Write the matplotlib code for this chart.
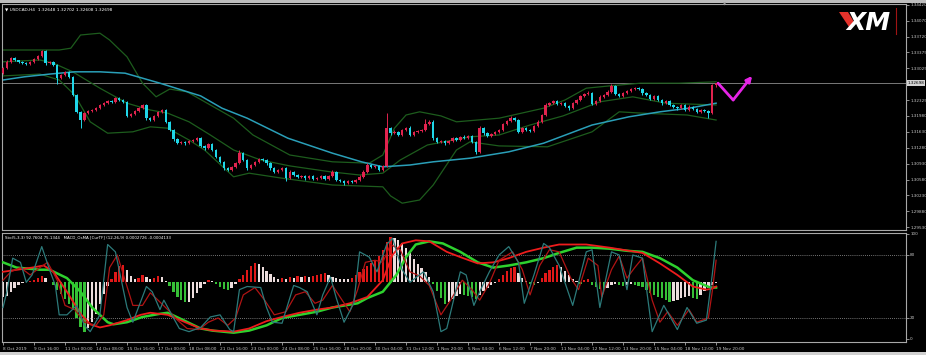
import numpy as np
import matplotlib
matplotlib.use("Agg")
import matplotlib.pyplot as plt
from matplotlib.patches import Polygon, Rectangle
from matplotlib.lines import Line2D

# ---------------------------------------------------------------------------
# Data (USDCAD H4)
# ---------------------------------------------------------------------------

first_open = 1.3292
close = [
    1.3303, 1.3317, 1.3325, 1.3321, 1.3317, 1.3314, 1.3312, 1.3317, 1.3323, 1.3330,
    1.3341, 1.3314, 1.3317, 1.3310, 1.3281, 1.3288, 1.3295, 1.3284, 1.3244, 1.3207,
    1.3189, 1.3204, 1.3209, 1.3211, 1.3215, 1.3222, 1.3226, 1.3231, 1.3229, 1.3237,
    1.3233, 1.3229, 1.3198, 1.3202, 1.3209, 1.3215, 1.3222, 1.3193, 1.3189, 1.3198,
    1.3207, 1.3211, 1.3185, 1.3167, 1.3147, 1.3138, 1.3141, 1.3138, 1.3143, 1.3145,
    1.3149, 1.3132, 1.3127, 1.3136, 1.3123, 1.3108, 1.3097, 1.3083, 1.3079, 1.3086,
    1.3094, 1.3116, 1.3101, 1.3083, 1.3090, 1.3097, 1.3103, 1.3101, 1.3094, 1.3083,
    1.3075, 1.3079, 1.3083, 1.3061, 1.3075, 1.3068, 1.3064, 1.3066, 1.3061, 1.3066,
    1.3059, 1.3061, 1.3066, 1.3059, 1.3066, 1.3075, 1.3057, 1.3055, 1.3050, 1.3055,
    1.3053, 1.3057, 1.3064, 1.3075, 1.3090, 1.3086, 1.3088, 1.3079, 1.3088, 1.3171,
    1.3160, 1.3163, 1.3156, 1.3167, 1.3171, 1.3156, 1.3163, 1.3165, 1.3167, 1.3180,
    1.3185, 1.3149, 1.3141, 1.3143, 1.3138, 1.3143, 1.3149, 1.3145, 1.3152, 1.3149,
    1.3154, 1.3141, 1.3119, 1.3171, 1.3160, 1.3154, 1.3158, 1.3163, 1.3167, 1.3180,
    1.3187, 1.3193, 1.3189, 1.3163, 1.3171, 1.3167, 1.3165, 1.3176, 1.3185, 1.3200,
    1.3222, 1.3226, 1.3231, 1.3224, 1.3226, 1.3220, 1.3215, 1.3226, 1.3233, 1.3242,
    1.3246, 1.3248, 1.3224, 1.3231, 1.3240, 1.3244, 1.3251, 1.3264, 1.3246, 1.3242,
    1.3248, 1.3253, 1.3257, 1.3259, 1.3257, 1.3248, 1.3244, 1.3235, 1.3242, 1.3233,
    1.3226, 1.3231, 1.3222, 1.3218, 1.3215, 1.3222, 1.3211, 1.3218, 1.3213, 1.3207,
    1.3211, 1.3209, 1.3204, 1.3265, 1.3270,
]
# wick lengths in pips beyond the candle body
wick_up = [
    2, 3, 2, 2, 1, 2, 3, 2, 2, 3,
    3, 2, 2, 1, 2, 3, 2, 2, 1, 2,
    2, 3, 2, 2, 2, 3, 2, 2, 3, 2,
    2, 2, 2, 3, 2, 2, 3, 2, 2, 3,
    2, 2, 2, 2, 2, 2, 2, 2, 3, 2,
    2, 2, 2, 3, 2, 2, 2, 2, 2, 2,
    3, 6, 2, 2, 3, 2, 3, 2, 2, 2,
    2, 2, 3, 2, 3, 2, 2, 2, 2, 3,
    2, 2, 3, 2, 3, 3, 2, 2, 2, 2,
    2, 2, 3, 3, 4, 2, 2, 2, 3, 33,
    3, 3, 2, 3, 3, 4, 2, 2, 3, 12,
    4, 3, 2, 2, 2, 2, 3, 2, 2, 3,
    2, 2, 2, 4, 2, 2, 2, 2, 3, 3,
    3, 4, 2, 2, 3, 2, 2, 3, 3, 3,
    4, 3, 3, 2, 2, 2, 2, 3, 3, 3,
    3, 4, 2, 3, 3, 3, 3, 5, 2, 2,
    3, 3, 2, 3, 2, 2, 2, 2, 3, 2,
    2, 2, 2, 2, 2, 3, 2, 3, 2, 2,
    2, 2, 2, 3, 0,
]
wick_dn = [
    2, 2, 3, 2, 2, 2, 3, 2, 2, 2,
    2, 3, 2, 2, 13, 2, 2, 3, 3, 3,
    18, 2, 2, 2, 2, 2, 2, 2, 3, 2,
    2, 3, 3, 2, 2, 2, 2, 3, 3, 2,
    2, 2, 3, 3, 4, 2, 2, 3, 2, 2,
    2, 3, 3, 2, 3, 3, 3, 3, 3, 2,
    2, 2, 3, 3, 2, 2, 2, 2, 3, 3,
    3, 2, 2, 6, 2, 3, 2, 2, 3, 2,
    3, 2, 2, 3, 2, 2, 3, 3, 3, 2,
    2, 2, 2, 2, 2, 2, 2, 3, 2, 3,
    3, 2, 3, 2, 2, 3, 2, 2, 2, 2,
    2, 3, 3, 2, 3, 2, 2, 2, 2, 2,
    2, 3, 4, 2, 3, 2, 2, 2, 2, 2,
    2, 2, 2, 3, 2, 2, 2, 2, 2, 2,
    2, 2, 2, 2, 2, 2, 3, 2, 2, 2,
    2, 2, 3, 2, 2, 2, 2, 2, 3, 2,
    2, 2, 2, 2, 2, 3, 2, 3, 2, 3,
    3, 2, 3, 2, 3, 2, 3, 2, 2, 3,
    2, 3, 11, 2, 4,
]

# Bollinger bands and moving average (bar index, price)
bb_upper_x = [0, 14.5, 17.5, 20, 25, 27.5, 32, 36, 39.5, 43, 47.5, 53.5, 59.5, 64.5, 74, 85,
              94.5, 98, 101, 104, 107.5, 113, 117, 128, 139.5, 145, 150.5, 156.5, 164.5, 174.5, 184]
bb_upper = [1.3343, 1.3343, 1.3347, 1.3376, 1.3380, 1.3365, 1.3328, 1.3270, 1.3240, 1.3257,
            1.3251, 1.3222, 1.3193, 1.3156, 1.3112, 1.3097, 1.3094, 1.3112, 1.3171, 1.3200,
            1.3207, 1.3198, 1.3185, 1.3193, 1.3215, 1.3233, 1.3259, 1.3264, 1.3270, 1.3270, 1.3273]
bb_mid_x = [0, 9.5, 13, 18, 25, 32, 38, 42.5, 48, 53.5, 59.5, 66.5, 74, 84.5, 92, 98, 102.5,
            109.5, 120.5, 128, 136, 144.5, 154, 162.5, 171, 184]
bb_mid = [1.3317, 1.3321, 1.3314, 1.3295, 1.3259, 1.3226, 1.3211, 1.3204, 1.3185, 1.3156,
          1.3123, 1.3101, 1.3088, 1.3075, 1.3068, 1.3072, 1.3101, 1.3134, 1.3152, 1.3156,
          1.3178, 1.3198, 1.3229, 1.3240, 1.3226, 1.3222]
bb_lower_x = [0, 9.5, 14.5, 18.5, 22.5, 27, 33.5, 38, 42.5, 48, 52, 59.5, 63.5, 72, 85, 98, 100,
              103, 107.5, 111, 117, 120.5, 128, 140.5, 152, 159, 165, 176.5, 184]
bb_lower = [1.3286, 1.3290, 1.3277, 1.3244, 1.3185, 1.3160, 1.3163, 1.3174, 1.3171, 1.3145,
            1.3123, 1.3064, 1.3072, 1.3061, 1.3046, 1.3042, 1.3022, 1.3006, 1.3013, 1.3046,
            1.3123, 1.3141, 1.3132, 1.3130, 1.3163, 1.3207, 1.3204, 1.3200, 1.3189]
ma_x = [0, 5.5, 12, 18.5, 25, 31.5, 40.5, 51, 56.5, 63, 73.5, 85, 92.5, 98, 105, 111, 120.5,
        130.5, 139.5, 152, 161.5, 169.5, 177, 184]
ma = [1.3277, 1.3284, 1.3290, 1.3295, 1.3295, 1.3292, 1.3270, 1.3242, 1.3215, 1.3193, 1.3149,
      1.3116, 1.3097, 1.3086, 1.3090, 1.3097, 1.3105, 1.3119, 1.3138, 1.3178, 1.3196, 1.3207,
      1.3215, 1.3226]

last_price = 1.32698
arrow_x = [184.5, 188.4, 193.3]
arrow_y = [1.3270, 1.3233, 1.3286]

price_ticks = [1.34420, 1.34070, 1.33720, 1.33375, 1.33025, 1.32325, 1.31980, 1.31630,
               1.31280, 1.30930, 1.30580, 1.30230, 1.29880, 1.29530]

date_labels = ["8 Oct 2019", "9 Oct 16:00", "11 Oct 00:00", "14 Oct 08:00", "15 Oct 16:00",
               "17 Oct 00:00", "18 Oct 08:00", "21 Oct 16:00", "23 Oct 00:00", "24 Oct 08:00",
               "25 Oct 16:00", "28 Oct 20:00", "30 Oct 04:00", "31 Oct 12:00", "1 Nov 20:00",
               "5 Nov 04:00", "6 Nov 12:00", "7 Nov 20:00", "11 Nov 04:00", "12 Nov 12:00",
               "13 Nov 20:00", "15 Nov 04:00", "18 Nov 12:00", "19 Nov 20:00"]

# OsMA histogram in points
osma = [
    -15, -14, -10, -6, -3, -1, 0, 1, 2, 4,
    6, 4, 0, -3, -8, -12, -17, -22, -28, -36,
    -45, -50, -46, -40, -32, -22, -12, -4, 3, 10,
    16, 17, 12, 6, 3, 4, 7, 5, 3, 4,
    6, 5, 1, -4, -10, -15, -18, -20, -20, -16,
    -11, -6, -2, 2, 1, -2, -5, -7, -8, -6,
    -2, 3, 7, 12, 16, 19, 18, 15, 11, 8,
    5, 3, 4, 3, 5, 4, 6, 5, 6, 5,
    6, 7, 8, 9, 7, 5, 4, 3, 3, 3,
    4, 7, 10, 13, 16, 19, 22, 26, 32, 40,
    45, 44, 42, 39, 34, 29, 23, 18, 14, 10,
    5, -2, -9, -16, -22, -20, -17, -14, -12, -13,
    -14, -15, -17, -13, -9, -6, -3, -1, 3, 7,
    11, 14, 15, 9, 4, 1, -2, -3, -1, 4,
    9, 12, 15, 17, 15, 11, 7, 3, 1, -2,
    2, 3, -3, -5, -7, -8, -6, -3, -2, -3,
    -4, -3, -2, -3, -4, -5, -8, -11, -13, -15,
    -16, -18, -20, -19, -18, -16, -15, -14, -16, -17,
    -13, -9, -6, -3, -1,
]

# stochastic main / signal and the two slow lines (bar index, 0..100)
teal_x = [0, 1, 2.5, 4.5, 6, 7.5, 10, 12, 13.5, 14.5, 16.5, 19, 21, 22.5, 25, 27, 29, 32, 33.5, 37,
          38.5, 40.5, 41.5, 44, 45.5, 48, 51, 53.5, 56, 58.5, 59.5, 61, 63, 66.5, 68, 69.5, 72, 75,
          76.5, 78.5, 81, 82.5, 84.5, 86, 88, 90.5, 92, 94.5, 96.5, 99, 100.5, 103, 105, 108.5, 111,
          113, 114.5, 118, 119.5, 121.5, 123, 125.5, 128, 130.5, 133, 134.5, 137, 139.5, 141, 143.5,
          147, 150.5, 152, 154, 157, 159, 161, 162.5, 165, 167.5, 170.5, 174, 176.5, 179, 181.5,
          183, 184]
teal = [30, 45, 77, 73, 54, 61, 88, 66, 51, 23, 23, 32, 13, 7, 23, 90, 83, 30, 16, 50,
        45, 28, 37, 20, 10, 7, 11, 21, 23, 9, 7, 47, 50, 49, 30, 16, 15, 51, 49, 45,
        23, 42, 59, 39, 16, 34, 83, 78, 64, 90, 96, 66, 54, 64, 45, 7, 10, 64, 61, 32,
        45, 64, 80, 88, 73, 34, 61, 91, 87, 70, 32, 83, 85, 30, 83, 80, 47, 80, 77, 7,
        32, 9, 30, 15, 18, 61, 93]
sig_x = [0, 2, 4.5, 7, 9.5, 11.5, 14, 16, 18.5, 21, 24, 26, 27.5, 29.5, 31.5, 33.5, 36, 38, 40,
         42.5, 45, 47.5, 50.5, 53, 55.5, 58, 60, 62, 65, 67.5, 70, 73, 75.5, 78, 80.5, 82.5, 85,
         87.5, 89.5, 91.5, 93.5, 96, 98, 100, 102.5, 105, 107.5, 110, 113, 115.5, 118.5, 121, 123,
         125.5, 128, 131.5, 134, 136, 138.5, 141, 143.5, 146.5, 148.5, 151, 153.5, 154.5, 157, 159,
         161, 163, 165, 167.5, 169.5, 171.5, 174, 177, 179, 182, 183, 184]
sig = [56, 64, 68, 61, 68, 73, 56, 32, 28, 16, 13, 23, 68, 80, 56, 32, 32, 44, 37, 28,
       18, 10, 9, 16, 20, 13, 20, 42, 49, 37, 23, 26, 42, 45, 34, 37, 51, 37, 26, 47,
       73, 75, 73, 90, 85, 64, 60, 51, 23, 37, 56, 47, 37, 53, 75, 83, 66, 42, 70, 85,
       83, 58, 47, 77, 70, 40, 66, 79, 58, 68, 77, 37, 16, 26, 13, 28, 16, 20, 45, 75]
slow_red_x = [0, 7.5, 10.5, 13, 16.5, 20, 22.5, 25, 27.5, 32, 35.5, 38, 42.5, 47, 51, 54.5, 59.5,
              63.5, 68, 72, 76.5, 81, 85, 89.5, 94, 98, 100.5, 103, 106.5, 110, 114.5, 118, 122.5,
              126.5, 130.5, 135, 139.5, 143.5, 150.5, 156.5, 165, 169.5, 174, 178, 181.5, 183, 184]
slow_red = [64, 68, 70, 64, 45, 24, 14, 11, 13, 18, 23, 25, 23, 16, 10, 8, 7, 10, 17, 21,
            25, 28, 30, 34, 40, 56, 80, 91, 94, 93, 83, 78, 72, 73, 77, 83, 87, 90, 90, 87,
            82, 72, 61, 50, 47, 48, 50]
green_x = [0, 3.5, 9.5, 12, 16.5, 20, 23, 27, 28.5, 32, 36, 40.5, 42.5, 46.5, 51, 54, 59.5, 63.5,
           68, 72, 76.5, 81, 85, 91.5, 94, 98, 101.5, 104, 106.5, 110, 113.5, 118, 122.5, 126.5,
           130.5, 135, 139.5, 143.5, 148, 152, 156.5, 161, 165, 169.5, 174, 178, 182.5, 184]
green = [73, 68, 66, 66, 58, 45, 30, 16, 14, 16, 21, 24, 25, 18, 10, 8, 6, 8, 13, 20,
         23, 26, 30, 34, 39, 45, 61, 78, 90, 93, 91, 83, 73, 68, 70, 73, 77, 82, 87, 87,
         86, 84, 83, 77, 68, 56, 49, 49]

# ---------------------------------------------------------------------------
# Styling
# ---------------------------------------------------------------------------

W, H = 926, 355
BULL = "#e0234e"
BEAR = "#1fd6e8"
BAND = "#1d5c1d"
MA_COL = "#2a9fb8"
GRID = "#a8a8a8"
TXT = "#c8c8c8"


def px_rect(x0, y0, x1, y1):
    return [x0 / W, 1 - y1 / H, (x1 - x0) / W, (y1 - y0) / H]


def style_axes(a):
    a.set_xlim(-0.26, 233.0)
    for s in a.spines.values():
        s.set_color(GRID)
        s.set_linewidth(0.8)


fig = plt.figure(figsize=(W / 100, H / 100), dpi=100, facecolor="black")

ax = fig.add_axes(px_rect(2, 4, 906, 230), facecolor="black")
axh = fig.add_axes(px_rect(2, 233, 906, 342), facecolor="black")
axi = fig.add_axes(px_rect(2, 233, 906, 342), facecolor="none")
for a in (ax, axh, axi):
    style_axes(a)

# ---------------------------------------------------------------------------
# Price panel
# ---------------------------------------------------------------------------

close_a = np.array(close)
open_a = np.concatenate([[first_open], close_a[:-1]])
top = np.maximum(open_a, close_a)
bot = np.minimum(open_a, close_a)
high = top + np.array(wick_up) * 1e-4
low = bot - np.array(wick_dn) * 1e-4
colors = np.where(close_a >= open_a, BULL, BEAR)
idx = np.arange(len(close_a))

ax.plot(bb_upper_x, bb_upper, color=BAND, lw=0.9, zorder=2)
ax.plot(bb_mid_x, bb_mid, color=BAND, lw=0.9, zorder=2)
ax.plot(bb_lower_x, bb_lower, color=BAND, lw=0.9, zorder=2)
ax.plot(ma_x, ma, color=MA_COL, lw=1.1, zorder=2)
ax.axhline(last_price, color="#8c8c8c", lw=0.6, zorder=1)

ax.vlines(idx, low, high, colors=colors, lw=0.7, zorder=3)
ax.bar(idx, np.maximum(top - bot, 0.00003), bottom=bot, width=0.62, color=colors,
       linewidth=0, zorder=4)

ax.plot(arrow_x[:2], arrow_y[:2], color="#e624e6", lw=2.0, zorder=5, solid_capstyle="round")
ax.annotate("", xy=(arrow_x[2], arrow_y[2]), xytext=(arrow_x[1], arrow_y[1]),
            arrowprops=dict(arrowstyle="-|>", color="#e624e6", lw=2.0, mutation_scale=8,
                            shrinkA=0, shrinkB=0), zorder=5)

ax.set_ylim(1.29470, 1.34442)
ax.yaxis.tick_right()
ax.set_yticks(price_ticks)
ax.set_yticklabels([f"{v:.5f}" for v in price_ticks])
ax.tick_params(axis="y", colors=TXT, labelsize=3.0, length=2, width=0.5, pad=1)
ax.tick_params(axis="x", bottom=False, labelbottom=False)

ax.text(1.0015, last_price, f"{last_price:.5f}", transform=ax.get_yaxis_transform(),
        fontsize=3.0, color="black", va="center", ha="left",
        bbox=dict(boxstyle="square,pad=0.2", fc="#d4d4d4", ec="none"))

ax.text(0.003, 0.985, "\u25bc USDCAD,H4  1.32648 1.32702 1.32608 1.32698",
        transform=ax.transAxes, fontsize=3.1, color="white", va="top", ha="left")

# ---------------------------------------------------------------------------
# Indicator panel
# ---------------------------------------------------------------------------

osma_a = np.array(osma)
prev = np.concatenate([[osma_a[0]], osma_a[:-1]])
hist_colors = np.where((osma_a > 0) & (osma_a > prev), "#e01818",
                       np.where((osma_a < 0) & (osma_a < prev), "#36c036", "#ecdcdc"))
axh.bar(idx, osma_a, width=0.6, color=hist_colors, linewidth=0)
axh.set_ylim(-60, 49)
axh.set_xticks([])
axh.set_yticks([])
for s in axh.spines.values():
    s.set_visible(False)

axi.axhline(80, color="#9a9a9a", lw=0.6, ls=(0, (1, 1.5)))
axi.axhline(20, color="#9a9a9a", lw=0.6, ls=(0, (1, 1.5)))
axi.plot(green_x, green, color="#2ed12e", lw=1.8, zorder=3)
axi.plot(slow_red_x, slow_red, color="#ee1c1c", lw=1.3, zorder=4)
axi.plot(sig_x, sig, color="#b01414", lw=0.9, zorder=4)
axi.plot(teal_x, teal, color="#2c7a7a", lw=0.9, zorder=5)

axi.set_ylim(-2.86, 100.95)
axi.yaxis.tick_right()
axi.set_yticks([0, 20, 80, 100])
axi.set_yticklabels(["0", "20", "80", "100"])
axi.tick_params(axis="y", colors=TXT, labelsize=3.0, length=2, width=0.5, pad=1)
axi.set_xticks(np.arange(0, len(close_a), 8))
axi.set_xticklabels(date_labels)
axi.tick_params(axis="x", colors=TXT, labelsize=3.1, length=2, width=0.5, pad=1.5)
for lbl in axi.get_xticklabels():
    lbl.set_horizontalalignment("left")

axi.text(0.003, 0.975,
         "Sto(5,3,3) 92.7604 75.1344   MACD_OsMA [CurTF] (12,26,9) 0.0002726 -0.0004133",
         transform=axi.transAxes, fontsize=2.9, color="white", va="top", ha="left")

# ---------------------------------------------------------------------------
# Frame and logo
# ---------------------------------------------------------------------------

fig.add_artist(Rectangle((0, 1 - 2.5 / H), 1, 2.5 / H, transform=fig.transFigure,
                         color="#bdbdbd", lw=0))
fig.add_artist(Rectangle((0, 0), 1, 3 / H, transform=fig.transFigure,
                         color="#d0d0d0", lw=0))
fig.text(725 / W, 1 - 4.5 / H, "\u25bc", fontsize=3, color="#9a9a9a", ha="center", va="center")

logo_red = np.array([[839, 12], [848, 12], [854, 22], [849, 27], [845, 21]])
fig.add_artist(Polygon(np.column_stack([logo_red[:, 0] / W, 1 - logo_red[:, 1] / H]),
                       closed=True, transform=fig.transFigure, color="#e4322b", lw=0))
fig.text(846 / W, 1 - 22.5 / H, "XM", fontsize=18, color="white", fontweight="bold",
         fontstyle="italic", ha="left", va="center")
fig.add_artist(Line2D([896 / W, 896 / W], [1 - 8 / H, 1 - 34 / H], transform=fig.transFigure,
                      color="#a01414", lw=0.8))

fig.savefig("out.png", dpi=100, facecolor="black")
